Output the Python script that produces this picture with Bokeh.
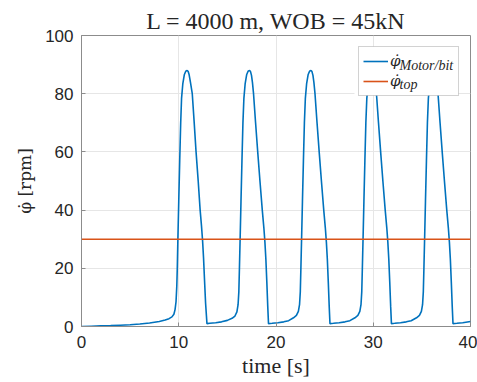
from bokeh.plotting import figure
from bokeh.models import Range1d, Legend, LegendItem, Label, FixedTicker, BoxAnnotation
from bokeh.embed import file_html
from bokeh.resources import INLINE

# ---- data ----
time_s = [0.0, 1.0, 2.0, 3.0, 4.0, 5.0, 6.0, 7.0, 8.0, 8.6, 9.0, 9.3, 9.5, 9.62, 9.72, 9.8, 9.85, 9.91,
          10.0, 10.1, 10.2, 10.29, 10.42, 10.57, 10.72, 10.87,
          10.97, 11.07, 11.2, 11.39, 11.58, 11.78, 12.0, 12.2, 12.34, 12.45, 12.55, 12.65, 12.76, 12.9,
          13.2, 13.8, 14.4, 15.0, 15.48, 15.78, 15.98, 16.1, 16.18, 16.24, 16.31,
          16.4, 16.5, 16.6, 16.7, 16.83, 16.98, 17.13, 17.28,
          17.38, 17.48, 17.58, 17.69, 17.9, 18.12, 18.35, 18.59, 18.75, 18.86, 18.96, 19.06, 19.15, 19.23,
          19.6, 20.2, 20.8, 21.3, 21.8, 22.1, 22.3, 22.42, 22.5, 22.56, 22.63,
          22.72, 22.82, 22.92, 23.02, 23.15, 23.3, 23.45, 23.6,
          23.7, 23.8, 23.9, 24.01, 24.22, 24.44, 24.67, 24.91, 25.07, 25.18, 25.28, 25.38, 25.47, 25.55,
          25.9, 26.5, 27.1, 27.6, 28.12, 28.42, 28.62, 28.74, 28.82, 28.88, 28.95,
          29.04, 29.14, 29.24, 29.34, 29.47, 29.62, 29.77, 29.92,
          30.02, 30.12, 30.22, 30.33, 30.54, 30.76, 30.99, 31.23, 31.39, 31.5, 31.6, 31.7, 31.79, 31.87,
          32.2, 32.8, 33.4, 33.9, 34.45, 34.75, 34.95, 35.07, 35.15, 35.21, 35.28,
          35.37, 35.47, 35.57, 35.67, 35.8, 35.95, 36.1, 36.25,
          36.35, 36.45, 36.55, 36.66, 36.87, 37.09, 37.32, 37.56, 37.72, 37.83, 37.93, 38.03, 38.12, 38.2,
          38.6, 39.2, 40.0]
motor_rpm = [0.0, 0.1, 0.2, 0.3, 0.45, 0.6, 0.85, 1.2, 1.7, 2.2, 2.7, 3.3, 4.2, 5.8, 8.5, 14.0, 20.0, 30.0,
             43.0, 57.0, 70.0, 78.5, 83.5, 86.5, 87.7, 88.0,
             87.6, 86.5, 84.0, 80.0, 70.5, 60.0, 50.0, 40.0, 34.5, 29.5, 23.5, 16.0, 8.0, 1.0,
             1.1, 1.3, 1.6, 2.1, 2.8, 3.6, 5.0, 7.5, 12.0, 20.0, 30.0,
             43.0, 57.0, 70.0, 78.5, 83.5, 86.5, 87.7, 88.0,
             87.6, 86.3, 83.8, 80.0, 70.0, 60.0, 50.0, 40.0, 34.0, 29.0, 23.0, 15.0, 7.0, 1.0,
             1.1, 1.3, 1.6, 2.0, 3.0, 3.8, 5.2, 7.5, 12.0, 20.0, 30.0,
             43.0, 57.0, 70.0, 78.5, 83.5, 86.5, 87.7, 88.0,
             87.6, 86.3, 83.8, 80.0, 70.0, 60.0, 50.0, 40.0, 34.0, 29.0, 23.0, 15.0, 7.0, 1.0,
             1.1, 1.3, 1.6, 2.0, 3.0, 3.8, 5.2, 7.5, 12.0, 20.0, 30.0,
             43.0, 57.0, 70.0, 78.5, 83.5, 86.5, 87.7, 88.0,
             87.6, 86.3, 83.8, 80.0, 70.0, 60.0, 50.0, 40.0, 34.0, 29.0, 23.0, 15.0, 7.0, 1.0,
             1.1, 1.3, 1.6, 2.0, 3.0, 3.8, 5.2, 7.5, 12.0, 20.0, 30.0,
             43.0, 57.0, 70.0, 78.5, 83.5, 86.5, 87.7, 88.0,
             87.6, 86.3, 83.8, 80.0, 70.0, 60.0, 50.0, 40.0, 34.0, 29.0, 23.0, 15.0, 7.0, 1.0,
             1.1, 1.3, 1.7]
top_time = [0.0, 40.0]
top_rpm = [30.0, 30.0]

x_ticks = [0, 10, 20, 30, 40]
y_ticks = [0, 20, 40, 60, 80, 100]
title_text = "L = 4000 m, WOB = 45kN"
x_label = "time [s]"
y_label = "\u03c6\u0307 [rpm]"
phi_dot = "\u03c6\u0307"
sub_motor = "Motor/bit"
sub_top = "top"

BLUE = "#0072BD"
ORANGE = "#D95319"
AXIS_C = "#8c8c8c"
TEXT_C = "#262626"
SERIF = "Liberation Serif"
MATH = "DejaVu Serif"

p = figure(width=477, height=382, output_backend="svg", toolbar_location=None,
           x_range=Range1d(0, 40), y_range=Range1d(0, 100),
           min_border_left=81, min_border_right=7, min_border_top=35, min_border_bottom=56,
           background_fill_color="white", border_fill_color="white")

p.title.text = title_text
p.title.align = "center"
p.title.text_font = SERIF
p.title.text_font_size = "24px"
p.title.text_font_style = "normal"
p.title.text_color = TEXT_C
p.title.standoff = 3

r1 = p.line(time_s, motor_rpm, line_color=BLUE, line_width=1.6)
r2 = p.line(top_time, top_rpm, line_color=ORANGE, line_width=1.6)

for ax, ticks in ((p.xaxis[0], x_ticks), (p.yaxis[0], y_ticks)):
    ax.ticker = FixedTicker(ticks=ticks)
    ax.axis_line_color = AXIS_C
    ax.major_tick_line_color = AXIS_C
    ax.major_tick_in = 4
    ax.major_tick_out = 0
    ax.minor_tick_line_color = None
    ax.major_label_text_font = "Liberation Sans"
    ax.major_label_text_font_size = "17px"
    ax.major_label_text_color = TEXT_C
    ax.axis_label_text_font_size = "22px"
    ax.axis_label_text_font_style = "normal"
    ax.axis_label_text_color = TEXT_C

p.xaxis[0].axis_label = x_label
p.xaxis[0].axis_label_text_font = SERIF
p.yaxis[0].axis_label = y_label
p.yaxis[0].axis_label_text_font = MATH
p.yaxis[0].axis_label_text_font_size = "17px"
p.xaxis[0].major_label_standoff = 9
p.yaxis[0].major_label_standoff = 8
p.xaxis[0].axis_label_standoff = 2
p.yaxis[0].axis_label_standoff = 7

p.xgrid.ticker = FixedTicker(ticks=x_ticks)
p.ygrid.ticker = FixedTicker(ticks=y_ticks)
p.grid.grid_line_color = "#e6e6e6"
p.grid.grid_line_width = 1
p.outline_line_color = AXIS_C

# white backing for the legend (drawn under the subscript texts)
p.add_layout(BoxAnnotation(left=273, right=377, top=280, bottom=231,
                           left_units="screen", right_units="screen",
                           top_units="screen", bottom_units="screen",
                           fill_color="white", fill_alpha=1.0, line_color=None))

for txt, yy in ((sub_motor, 261), (sub_top, 242)):
    p.add_layout(Label(x=318, y=yy, x_units="screen", y_units="screen", text=txt,
                       text_font=SERIF, text_font_style="italic", text_font_size="14px",
                       text_color=TEXT_C, text_baseline="alphabetic"))

legend = Legend(items=[LegendItem(label=phi_dot, renderers=[r1]),
                       LegendItem(label=phi_dot, renderers=[r2])],
                location="top_right", margin=11, padding=4, spacing=0,
                glyph_width=25, glyph_height=20, label_standoff=2,
                label_width=64, label_height=18,
                label_text_font=MATH, label_text_font_style="italic",
                label_text_font_size="15px", label_text_color=TEXT_C,
                border_line_color="#a6a6a6", border_line_width=1,
                background_fill_alpha=0.0)
p.add_layout(legend)

open("out.html", "w").write(file_html(p, INLINE))
